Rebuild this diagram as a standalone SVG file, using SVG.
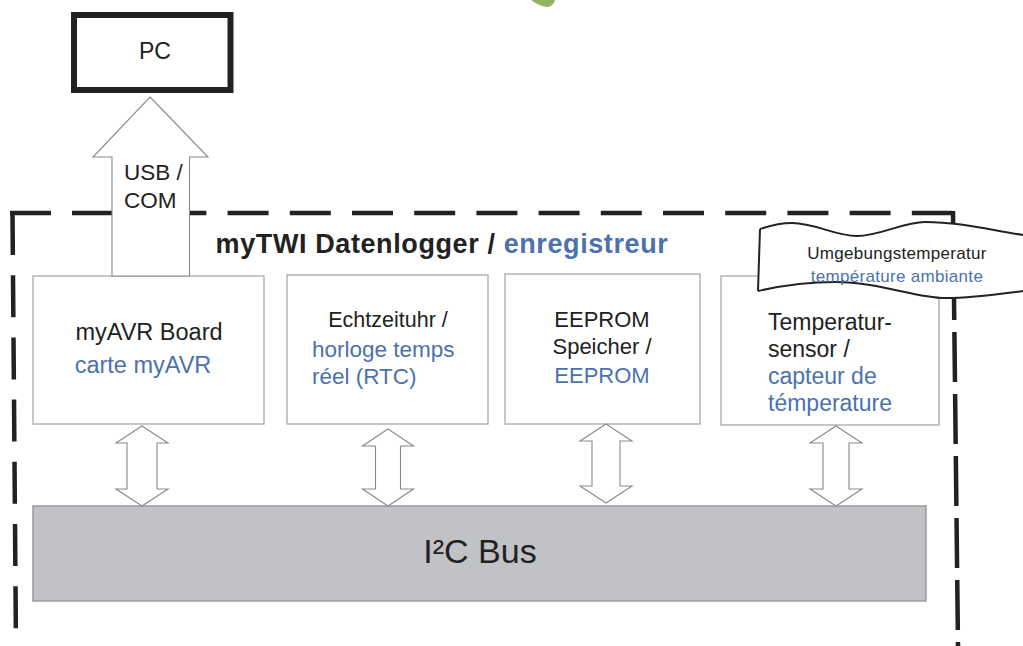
<svg xmlns="http://www.w3.org/2000/svg" width="1023" height="646" viewBox="0 0 1023 646">
  <style>
    text { font-family: "Liberation Sans", Arial, sans-serif; fill: #222; }
    .blue { fill: #4c72ad; }
    .box { fill: #fff; stroke: #a8a8a8; stroke-width: 1.3; }
    .dash { fill: none; stroke: #222; stroke-width: 4.5; }
    .arrow { fill: #fff; stroke: #8a8a8a; stroke-width: 1.1; stroke-linejoin: miter; }
  </style>
  <rect x="0" y="0" width="1023" height="646" fill="#fff"/>
  <!-- leaf fragment at top edge -->
  <path d="M531,0 L555,0 C554,4 551,7 547,7 C540,6 535,3 531,0 Z" fill="#93b35f"/>

  <g id="frame">
    <path class="dash" d="M10,213 H51 M72,213 H112"/>
    <path class="dash" d="M165.4,213 H953" stroke-dasharray="41 21.2"/>
    <path class="dash" d="M12.5,213 L16,646" stroke-dasharray="42 20.2"/>
    <path class="dash" d="M953,211 L958,646" stroke-dasharray="50 12" stroke-dashoffset="3"/>
    <text x="442" y="253" font-size="27" font-weight="bold" text-anchor="middle" letter-spacing="0.6">myTWI Datenlogger / <tspan class="blue">enregistreur</tspan></text>
  </g>

  <g id="pc">
    <rect x="74" y="15" width="156.5" height="75" fill="#fff" stroke="#222" stroke-width="6"/>
    <text x="155" y="59" font-size="23" text-anchor="middle">PC</text>
  </g>

  <g id="myavr">
    <rect class="box" x="33" y="276" width="231" height="148"/>
    <text x="149" y="340" font-size="23.5" text-anchor="middle">myAVR Board</text>
    <text class="blue" x="143" y="373" font-size="23.5" text-anchor="middle">carte myAVR</text>
  </g>

  <g id="rtc">
    <rect class="box" x="287" y="275" width="201" height="149"/>
    <text x="388" y="327" font-size="21.5" text-anchor="middle">Echtzeituhr /</text>
    <text class="blue" x="312" y="357" font-size="22.5">horloge temps</text>
    <text class="blue" x="312" y="384" font-size="22.5">réel (RTC)</text>
  </g>

  <g id="eeprom">
    <rect class="box" x="505" y="274" width="195" height="150"/>
    <text x="602" y="327" font-size="22" text-anchor="middle">EEPROM</text>
    <text x="602" y="354" font-size="22" text-anchor="middle">Speicher /</text>
    <text class="blue" x="602" y="383" font-size="22" text-anchor="middle">EEPROM</text>
  </g>

  <g id="tempsensor">
    <rect class="box" x="721" y="276" width="218" height="149"/>
    <text x="768" y="330" font-size="23">Temperatur-</text>
    <text x="768" y="357" font-size="23">sensor /</text>
    <text class="blue" x="768" y="384" font-size="23">capteur de</text>
    <text class="blue" x="768" y="411" font-size="23">témperature</text>
  </g>

  <g id="ambient">
    <path d="M760,229 C772,225 782,223 792,223 C815,223 835,236 857,236 C880,236 903,222 925,222 C960,222 990,230 1023,235 L1030,235 L1030,291 L1023,291 C1000,294 975,298 945,298 C915,298 880,282 835,282 C810,282 780,286 758,291 Z" fill="#fff" stroke="none"/>
    <path d="M760,229 C772,225 782,223 792,223 C815,223 835,236 857,236 C880,236 903,222 925,222 C960,222 990,230 1023,235 M758,291 C780,286 810,282 835,282 C880,282 915,298 945,298 C975,298 1000,294 1023,291 M760,229 L758,291" fill="none" stroke="#222" stroke-width="2"/>
    <text x="897" y="259" font-size="17" text-anchor="middle" letter-spacing="0.3">Umgebungstemperatur</text>
    <text class="blue" x="897" y="282" font-size="17" text-anchor="middle" letter-spacing="0.3">température ambiante</text>
  </g>

  <g id="bus">
    <rect x="33" y="506" width="893" height="95" fill="#c1c2c5" stroke="#9a9a9a" stroke-width="1.5"/>
    <text x="480" y="563" font-size="34" text-anchor="middle">I²C Bus</text>
  </g>

  <g id="connectors">
    <g id="usb">
      <polygon class="arrow" points="150,97 208,157 189.5,157 189.5,276 112,276 112,157 93,157"/>
      <text x="124" y="180" font-size="22.5">USB /</text>
      <text x="124" y="208" font-size="22.5">COM</text>
    </g>
    <polygon class="arrow" points="142,426 168,443 157,443 157,489 168,489 142,506 116,489 127,489 127,443 116,443"/>
    <polygon class="arrow" points="388,429 413.5,446 400.5,446 400.5,489 413.5,489 388,506 362.5,489 375.5,489 375.5,446 362.5,446"/>
    <polygon class="arrow" points="606,424 632,441 620,441 620,486 632,486 606,503 580,486 592,486 592,441 580,441"/>
    <polygon class="arrow" points="836,426 862,443 849,443 849,489 862,489 836,506 810,489 823,489 823,443 810,443"/>
  </g>
</svg>
